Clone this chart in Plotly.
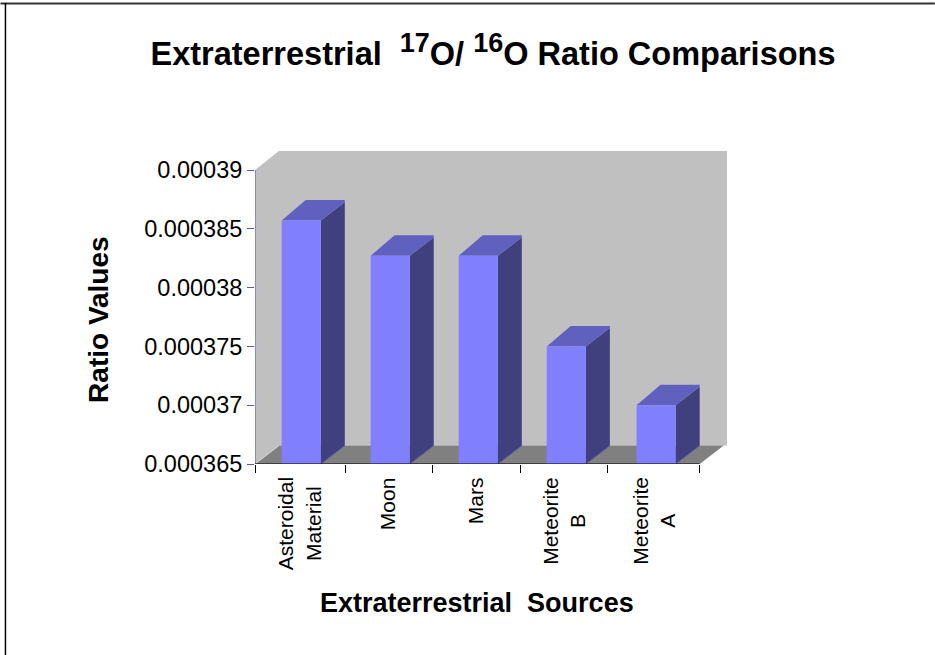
import plotly.graph_objects as go

categories = ["Asteroidal<br>Material", "Moon", "Mars", "Meteorite<br>B", "Meteorite<br>A"]
values = [0.0003857, 0.0003827, 0.0003827, 0.000375, 0.00037]
y_ticks = [0.000365, 0.00037, 0.000375, 0.00038, 0.000385, 0.00039]
y_labels = ["0.000365", "0.00037", "0.000375", "0.00038", "0.000385", "0.00039"]

W, H = 935, 655
L, R, T, B = 254.7, 727.0, 151.0, 464.0
PX_X = 89.0
Y0 = y_ticks[0]
PX_Y = 58.8 / 5e-6
y_top = Y0 + (B - T) / PX_Y
x_top = (R - L) / PX_X
DX = 24 / PX_X
DY = 18.5 / PX_Y
DY_TOP = 20.5 / PX_Y
n = len(categories)
centres = [0.52, 1.52, 2.51, 3.5, 4.51]
boundaries = [0, 1.02, 1.99, 2.98, 3.96, 5]
half = 0.22

FRONT, SIDE, TOP = "#8080FF", "#40407F", "#6060BF"
WALL, FLOOR = "#C0C0C0", "#808080"
FONT = "Liberation Sans, Arial, sans-serif"


def poly(xs, ys, color, name=None):
    return go.Scatter(x=xs, y=ys, mode="lines", fill="toself", fillcolor=color,
                      line=dict(width=0), hoverinfo="skip", showlegend=False, name=name)


def seg(xs, ys, color, width=1):
    return go.Scatter(x=xs, y=ys, mode="lines", line=dict(color=color, width=width),
                      hoverinfo="skip", showlegend=False)


def px_x(p):
    return (p - L) / (R - L)


def px_y(p):
    return (B - p) / (B - T)


fig = go.Figure()
# back wall, side wall, floor
fig.add_trace(poly([DX, x_top, x_top, DX, DX],
                   [Y0 + DY, Y0 + DY, y_top, y_top, Y0 + DY], WALL))
fig.add_trace(poly([0, DX, DX, 0, 0], [Y0, Y0 + DY, y_top, y_ticks[-1], Y0], WALL))
fig.add_trace(poly([0, n, n + DX, DX, 0], [Y0, Y0, Y0 + DY, Y0 + DY, Y0], FLOOR))
fig.add_trace(seg([0, DX], [Y0, Y0 + DY], "#D8D8D8"))
# bars
for c, v, cat in zip(centres, values, categories):
    l, r = c - half, c + half
    fig.add_trace(poly([r, r + DX, r + DX, r, r], [Y0, Y0 + DY, v + DY, v, Y0], SIDE))
    fig.add_trace(seg([r, r + DX], [Y0, Y0 + DY], "#5A5AA8"))
    fig.add_trace(poly([l, r, r + DX, r + DX, l + DX, l],
                       [v, v, v + DY, v + DY_TOP, v + DY_TOP, v], TOP))
    fig.add_trace(poly([l, r, r, l, l], [Y0, Y0, v, v, Y0], FRONT, name=cat))
# axis lines, only as long as the front of the chart
fig.add_trace(seg([0, 0], [Y0, y_ticks[-1]], "#5555CC"))
fig.add_trace(seg([0, n], [Y0, Y0], "#000000"))
fig.update_traces(cliponaxis=False)

annotations = [
    dict(text="<b>Ratio Values</b>", xref="paper", yref="paper", textangle=-90, showarrow=False,
         xanchor="center", yanchor="middle", x=px_x(98), y=px_y(319.5), font=dict(size=28)),
    dict(text="<b>Extraterrestrial  Sources</b>", xref="paper", yref="paper", showarrow=False,
         xanchor="center", yanchor="middle", x=px_x(477), y=px_y(603), font=dict(size=27)),
]
for c, cat in zip(centres, categories):
    annotations.append(dict(text=cat, x=c, xref="x", y=px_y(475), yref="paper", textangle=-90,
                            showarrow=False, xanchor="center", yanchor="top", align="center",
                            xshift=-2.5, font=dict(size=21)))

fig.update_layout(
    width=W, height=H, autosize=False,
    margin=dict(l=L, r=W - R, t=T, b=H - B, pad=0),
    paper_bgcolor="white", plot_bgcolor="white",
    font=dict(family=FONT, color="black", size=20),
    showlegend=False,
    title=dict(text="<b>Extraterrestrial  <sup><span style=\"font-size:27px\">17</span></sup>O/ "
                    "<sup><span style=\"font-size:27px\">16</span></sup>O Ratio Comparisons</b>",
               x=493 / W, xanchor="center", y=1 - 54 / H, yanchor="middle",
               font=dict(size=32.5, family=FONT)),
    xaxis=dict(range=[0, x_top], tickmode="array", tickvals=boundaries, showticklabels=False,
               ticks="outside", ticklen=8, tickcolor="black", tickwidth=1,
               showgrid=False, zeroline=False, showline=False),
    yaxis=dict(range=[Y0, y_top], tickmode="array", tickvals=y_ticks, ticktext=y_labels,
               ticks="outside", ticklen=7, tickcolor="#5555CC", tickwidth=1,
               showgrid=False, zeroline=False, showline=False, tickfont=dict(size=23.5)),
    annotations=annotations,
)
fig.add_shape(type="line", xref="paper", yref="paper", x0=px_x(0), x1=px_x(W),
              y0=px_y(3.5), y1=px_y(3.5), line=dict(color="#333333", width=2))
fig.add_shape(type="line", xref="paper", yref="paper", x0=px_x(5), x1=px_x(5),
              y0=px_y(H), y1=px_y(3), line=dict(color="#000000", width=1.5))
fig.write_html("out.html", config=dict(displayModeBar=False),
               post_script="document.body.style.margin='0';document.body.style.overflow='hidden';")
